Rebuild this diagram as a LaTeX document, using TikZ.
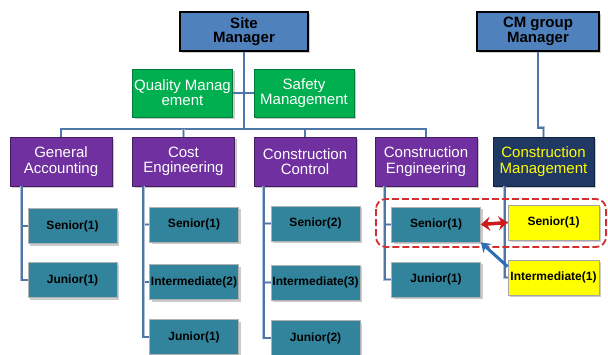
\documentclass[tikz,border=0pt]{standalone}
\usepackage{fontspec}
\setmainfont{Liberation Sans}
\usetikzlibrary{shadows,arrows.meta}
\definecolor{mgrblue}{RGB}{79,129,189}
\definecolor{qgreen}{RGB}{0,176,80}
\definecolor{dpurple}{RGB}{112,48,160}
\definecolor{navybox}{RGB}{31,56,100}
\definecolor{tealbox}{RGB}{49,132,155}
\definecolor{yelbox}{RGB}{255,255,0}
\definecolor{linkblue}{RGB}{79,118,168}
\definecolor{arrred}{RGB}{205,25,25}
\definecolor{arrblue}{RGB}{46,110,180}
\begin{document}
\begin{tikzpicture}[x=1pt,y=-1pt,
 box/.style={rectangle, align=center, inner sep=0pt,
   drop shadow={shadow xshift=2pt,shadow yshift=-2pt,fill=black!40,opacity=0.5}},
 mgr/.style={box, fill=mgrblue, draw=black, line width=1.6pt,
   font=\bfseries\fontsize{15}{14.5}\selectfont, minimum height=39pt},
 grn/.style={box, fill=qgreen, draw=qgreen!70!black, line width=0.6pt, text=white,
   font=\fontsize{15}{15}\selectfont, minimum width=100pt, minimum height=48pt},
 dept/.style={box, fill=dpurple, draw=dpurple!60!black, line width=0.6pt, text=white,
   font=\fontsize{15}{15.5}\selectfont, minimum width=102pt, minimum height=49pt},
 cmdept/.style={dept, fill=navybox, draw=navybox!60!black, text=yelbox},
 staff/.style={box, fill=tealbox, draw=black!30, line width=0.8pt,
   font=\bfseries\fontsize{12}{13}\selectfont, minimum width=89pt, minimum height=35pt},
 ystaff/.style={staff, fill=yelbox, draw=black!35, minimum width=91pt},
 conn/.style={draw=linkblue!45, double=linkblue, double distance=1.8pt, line width=0.5pt},
 redarr/.style={draw=arrred, line width=3.5pt, {Stealth[length=9pt,width=14pt]}-{Stealth[length=9pt,width=14pt]}},
 bluearr/.style={draw=arrblue, line width=3pt, -{Stealth[length=9pt,width=12pt]}},
 hilite/.style={draw=arrred!90!white, line width=1.8pt, dash pattern=on 7pt off 3pt, rounded corners=10pt}
]
\useasboundingbox (0,0) rectangle (608,354);

% managers
\node[mgr, minimum width=128pt] (site) at (244,31.5) {Site\\Manager};
\node[mgr, minimum width=122pt] (cmg) at (538,31.5) {CM group\\Manager};

% staff units
\node[grn] (qm) at (182.5,93) {Quality Manag\\ement};
\node[grn] (sm) at (304,93) {Safety\\Management};

% departments
\node[dept] (ga) at (61,161.5) {General\\Accounting};
\node[dept] (ce) at (183.5,161.5) {Cost\\Engineering};
\node[dept] (cc) at (305,161.5) {Construction\\Control};
\node[dept] (ceng) at (426,161.5) {Construction\\Engineering};
\node[cmdept, minimum width=101pt] (cm) at (543.5,161.5) {Construction\\Management};

% positions
\node[staff] (gasen) at (72.5,226) {Senior(1)};
\node[staff] (gajun) at (72.5,280) {Junior(1)};
\node[staff] (cesen) at (194,224.5) {Senior(1)};
\node[staff] (ceint) at (194,282) {Intermediate(2)};
\node[staff] (cejun) at (194,337) {Junior(1)};
\node[staff] (ccsen) at (315.5,223.5) {Senior(2)};
\node[staff] (ccint) at (315.5,282.5) {Intermediate(3)};
\node[staff] (ccjun) at (315.5,338) {Junior(2)};
\node[staff] (engsen) at (436,224.5) {Senior(1)};
\node[staff] (engjun) at (436,279.5) {Junior(1)};
\node[ystaff] (cmsen) at (553.5,222.5) {Senior(1)};
\node[ystaff] (cmint) at (553.5,277.5) {Intermediate(1)};

% hierarchy connectors
\coordinate (bus) at (244,129);
\draw[conn] (site.south) -- (bus);
\draw[conn] (qm.east) -- (sm.west);
\draw[conn] (ga.north) -- (ga.north |- bus) -- (ceng.north |- bus) -- (ceng.north);
\draw[conn] (ce.north) -- (ce.north |- bus);
\draw[conn] (cc.north) -- (cc.north |- bus);
\draw[conn] (cmg.south) |- ([yshift=9pt]cm.north) -- (cm.north);

\draw[conn] ([xshift=12pt]ga.south west) |- (gasen.west);
\draw[conn] ([xshift=12pt]ga.south west) |- (gajun.west);
\draw[conn] ([xshift=11pt]ce.south west) |- (cesen.west);
\draw[conn] ([xshift=11pt]ce.south west) |- (ceint.west);
\draw[conn] ([xshift=11pt]ce.south west) |- (cejun.west);
\draw[conn] ([xshift=10pt]cc.south west) |- (ccsen.west);
\draw[conn] ([xshift=10pt]cc.south west) |- (ccint.west);
\draw[conn] ([xshift=10pt]cc.south west) |- (ccjun.west);
\draw[conn] ([xshift=10pt]ceng.south west) |- (engsen.west);
\draw[conn] ([xshift=10pt]ceng.south west) |- (engjun.west);
\draw[conn] ([xshift=12pt]cm.south west) |- (cmsen.west);
\draw[conn] ([xshift=12pt]cm.south west) |- (cmint.west);

% highlight and relation arrows
\draw[hilite] (376,199) rectangle (606,247);
\draw[redarr] (engsen.east) -- (cmsen.west);
\draw[bluearr] ([yshift=-7pt]cmint.north west) -- (engsen.south east);
\end{tikzpicture}
\end{document}
